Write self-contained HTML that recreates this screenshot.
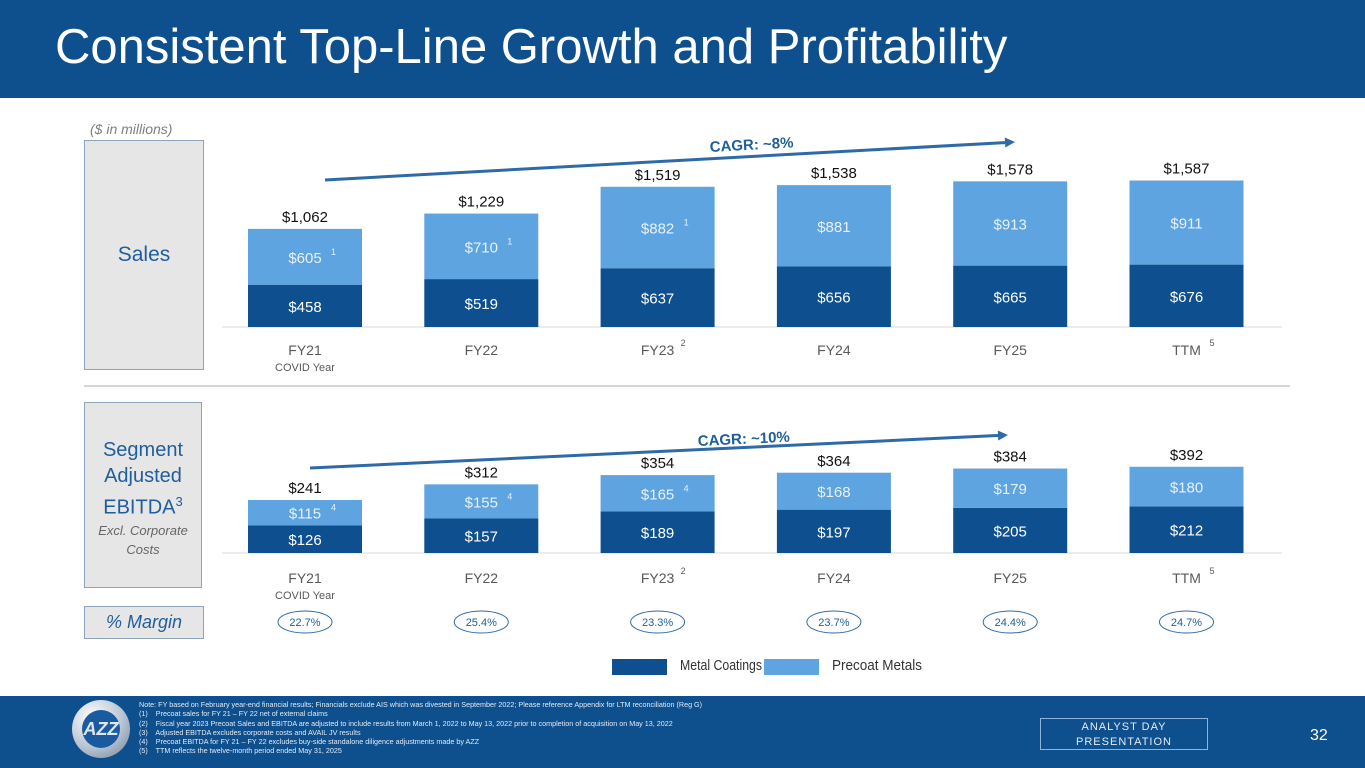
<!DOCTYPE html>
<html><head><meta charset="utf-8">
<style>
body{margin:0;width:1365px;height:768px;overflow:hidden;background:#fff;font-family:"Liberation Sans",sans-serif;position:relative}
.abs{position:absolute}
</style></head><body>
<div class="abs" style="left:0;top:0;width:1365px;height:98px;background:#0e4f8e"></div>
<div class="abs" style="left:55px;top:19px;font-size:49px;color:#fff;white-space:nowrap">Consistent Top-Line Growth and Profitability</div>
<div class="abs" style="left:90px;top:121px;font-size:14px;font-style:italic;color:#7f7f7f">($ in millions)</div>
<div class="abs" style="left:84px;top:140px;width:118px;height:228px;background:#e6e6e6;border:1px solid #8ea4bc;color:#1f5e9c;font-size:21px;text-align:center;line-height:228px">Sales</div>
<div class="abs" style="left:84px;top:402px;width:118px;height:186px;background:#e6e6e6;border:1px solid #8ea4bc;color:#1f5e9c;font-size:20px;text-align:center;box-sizing:border-box;padding-top:34px;line-height:26px">Segment<br>Adjusted<br>EBITDA<sup style="font-size:13px">3</sup><div style="font-size:13px;font-style:italic;color:#666;line-height:19px">Excl. Corporate<br>Costs</div></div>
<div class="abs" style="left:84px;top:606px;width:118px;height:31px;background:#e6e6e6;border:1px solid #8ea4bc;color:#1f5e9c;font-size:18px;font-style:italic;text-align:center;line-height:31px">% Margin</div>
<div class="abs" style="left:84px;top:385px;width:1206px;height:2px;background:#d6d6d6"></div>
<svg id="chart" class="abs" style="left:0;top:0" width="1365" height="696"></svg>
<div class="abs" style="left:612px;top:657px;width:340px;height:22px;font-size:15px;color:#333">
<span class="abs" style="left:0;top:2px;width:55px;height:16px;background:#0d4f8f"></span>
<span class="abs" style="left:68px;top:0;white-space:nowrap;transform:scaleX(0.82);transform-origin:left">Metal Coatings</span>
<span class="abs" style="left:152px;top:2px;width:55px;height:16px;background:#5ea4e0"></span>
<span class="abs" style="left:220px;top:0;white-space:nowrap;transform:scaleX(0.9);transform-origin:left">Precoat Metals</span>
</div>
<div class="abs" style="left:0;top:696px;width:1365px;height:72px;background:#0e4f8e"></div>
<div class="abs" style="left:72px;top:700px;width:58px;height:58px;border-radius:50%;background:radial-gradient(circle at 35% 30%,#fff,#b8c4d2 55%,#6e7f95);"><div style="position:absolute;left:10px;top:10px;width:38px;height:38px;border-radius:50%;background:#1a5aa0;color:#dfe6ef;font-weight:bold;font-style:italic;font-size:18px;text-align:center;line-height:38px">AZZ</div></div>
<div class="abs" style="left:139px;top:700px;font-size:7.2px;line-height:9.3px;color:#e4ebf3;white-space:nowrap">
Note: FY based on February year-end financial results; Financials exclude AIS which was divested in September 2022; Please reference Appendix for LTM reconciliation (Reg G)<br>
(1)&nbsp;&nbsp;&nbsp; Precoat sales for FY 21 – FY 22 net of external claims<br>
(2)&nbsp;&nbsp;&nbsp; Fiscal year 2023 Precoat Sales and EBITDA are adjusted to include results from March 1, 2022 to May 13, 2022 prior to completion of acquisition on May 13, 2022<br>
(3)&nbsp;&nbsp;&nbsp; Adjusted EBITDA excludes corporate costs and AVAIL JV results<br>
(4)&nbsp;&nbsp;&nbsp; Precoat EBITDA for FY 21 – FY 22 excludes buy-side standalone diligence adjustments made by AZZ<br>
(5)&nbsp;&nbsp;&nbsp; TTM reflects the twelve-month period ended May 31, 2025</div>
<div class="abs" style="left:1040px;top:718px;width:168px;height:32px;border:1px solid #8fb3d9;box-sizing:border-box;color:#e4ebf3;font-size:11px;letter-spacing:1px;text-align:center;line-height:15px;padding-top:1px">ANALYST DAY<br>PRESENTATION</div>
<div class="abs" style="left:1310px;top:727px;color:#fff;font-size:16px">32</div>
<script>
const categories=["FY21","FY22","FY23","FY24","FY25","TTM"];
const catNotes=["","","2","","","5"];
const salesMetal=[458,519,637,656,665,676];
const salesPrecoat=[605,710,882,881,913,911];
const salesTotal=[1062,1229,1519,1538,1578,1587];
const salesNotes=["1","1","1","","",""];
const ebitdaMetal=[126,157,189,197,205,212];
const ebitdaPrecoat=[115,155,165,168,179,180];
const ebitdaTotal=[241,312,354,364,384,392];
const ebitdaNotes=["4","4","4","","",""];
const margins=["22.7%","25.4%","23.3%","23.7%","24.4%","24.7%"];
const svg=document.getElementById('chart');
const NS="http://www.w3.org/2000/svg";
function mk(t,a,txt){const e=document.createElementNS(NS,t);for(const k in a)e.setAttribute(k,a[k]);if(txt!==undefined)e.textContent=txt;svg.appendChild(e);return e;}
const xc=i=>305+i*176.3;
const bw=114;
const fmt=v=>"$"+v.toLocaleString("en-US");
function panel(metal,pre,tot,notes,base,scale,axisY,lblY,name){
  const yv=v=>base-v*scale;
  let l=mk('line',{x1:222,x2:1282,y1:base,y2:base,stroke:'#d9d9d9','stroke-width':1});
  
  
  categories.forEach((c,i)=>{
    const x=xc(i)-bw/2;
    let r1=mk('rect',{x:x,y:yv(metal[i]),width:bw,height:base-yv(metal[i]),fill:'#0d4f8f'});
    
    
    let r2=mk('rect',{x:x,y:yv(metal[i]+pre[i]),width:bw,height:pre[i]*scale,fill:'#5ea4e0'});
    
    
    let t1=mk('text',{x:xc(i),y:(yv(metal[i])+base)/2+6,'text-anchor':'middle',fill:'#fff','font-size':15},fmt(metal[i]));
    
    
    const my=(yv(metal[i]+pre[i])+yv(metal[i]))/2+6;
    let t2=mk('text',{x:xc(i),y:my,'text-anchor':'middle',fill:'#e8f1fa','font-size':15},fmt(pre[i]));
    
    
    if(notes[i]){let n=mk('text',{x:xc(i)+26,y:my-8,fill:'#e8f1fa','font-size':9},notes[i]);
      
      }
    let t3=mk('text',{x:xc(i),y:yv(tot[i])-7,'text-anchor':'middle',fill:'#111','font-size':15},fmt(tot[i]));
    
    
    let cl=mk('text',{x:xc(i),y:lblY,'text-anchor':'middle',fill:'#595959','font-size':14},c);
    
    
    if(catNotes[i]){let n=mk('text',{x:xc(i)+23,y:lblY-9,fill:'#595959','font-size':9},catNotes[i]);
      
      }
    if(i===0){let cv=mk('text',{x:xc(i),y:lblY+16,'text-anchor':'middle',fill:'#595959','font-size':11},'COVID Year');
      
      }
  });
}
panel(salesMetal,salesPrecoat,salesTotal,salesNotes,327,0.0923,327,355,'sales');
panel(ebitdaMetal,ebitdaPrecoat,ebitdaTotal,ebitdaNotes,553,0.22,553,583,'ebitda');
function arrow(x1,y1,x2,y2,label,lx,ly,name){
  const a=Math.atan2(y2-y1,x2-x1);
  let l=mk('line',{x1:x1,y1:y1,x2:x2-8*Math.cos(a),y2:y2-8*Math.sin(a),stroke:'#2e6aa8','stroke-width':3});
  
  
  const p=[[x2,y2],[x2-10*Math.cos(a)+5*Math.sin(a),y2-10*Math.sin(a)-5*Math.cos(a)],[x2-10*Math.cos(a)-5*Math.sin(a),y2-10*Math.sin(a)+5*Math.cos(a)]];
  let h=mk('polygon',{points:p.map(q=>q.join(',')).join(' '),fill:'#2e6aa8'});
  
  
  let t=mk('text',{x:lx,y:ly,fill:'#1f5e9c','font-size':15,'font-weight':'bold',transform:`rotate(${a*180/Math.PI} ${lx} ${ly})`},label);
  
  
}
arrow(325,180,1015,142,'CAGR: ~8%',710,152,'sales-cagr');
arrow(310,468,1008,435,'CAGR: ~10%',698,446,'ebitda-cagr');
margins.forEach((m,i)=>{
  let e=mk('ellipse',{cx:xc(i),cy:622,rx:27,ry:11,fill:'none',stroke:'#2e6aa8','stroke-width':1});
  
  
  let t=mk('text',{x:xc(i),y:626,'text-anchor':'middle',fill:'#1f5e9c','font-size':11},m);
  
  
});
</script>
</body></html>
